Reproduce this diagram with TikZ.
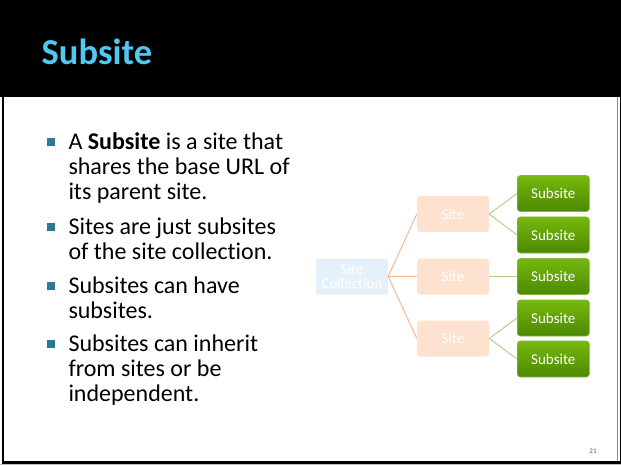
\documentclass[tikz,border=0pt]{standalone}
\usepackage{fontspec}
\setmainfont[Ligatures={NoCommon}]{Carlito}
\definecolor{titlecyan}{RGB}{79,200,242}
\definecolor{bulletteal}{RGB}{42,122,147}
\definecolor{collfill}{RGB}{228,241,250}
\definecolor{sitefill}{RGB}{253,226,208}
\definecolor{subtop}{RGB}{118,184,14}
\definecolor{subbot}{RGB}{76,136,0}
\definecolor{subedge}{RGB}{130,185,60}
\definecolor{linkorange}{RGB}{250,178,136}
\definecolor{linkgreen}{RGB}{172,206,132}
\definecolor{pagegray}{RGB}{90,90,90}
\tikzset{
  x=1pt, y=-1pt,
  boxbase/.style={rounded corners=3pt, minimum width=72pt, minimum height=36pt,
    inner sep=0pt, align=center, font=\fontsize{15}{15}\selectfont},
  collbox/.style={boxbase, fill=collfill, text=white},
  sitebox/.style={boxbase, fill=sitefill, text=white},
  subbox/.style={boxbase, top color=subtop, bottom color=subbot, draw=subedge,
    line width=0.6pt, text=white},
  orangelink/.style={draw=linkorange, line width=0.9pt},
  greenlink/.style={draw=linkgreen, line width=0.9pt},
  bodyline/.style={anchor=base west, inner sep=0pt,
    font=\fontsize{24}{25}\selectfont, text=black},
  bulletsq/.style={fill=bulletteal, minimum size=7.5pt, inner sep=0pt},
}
\begin{document}
\begin{tikzpicture}
\useasboundingbox (0,0) rectangle (621,465);
% slide background, frame and header band
\fill[white] (0,0) rectangle (621,465);
\fill[black] (0,0) rectangle (621,97);
\fill[black] (2,97) rectangle (4.3,463.5);
\fill[black] (2,461) rectangle (621,463.5);
\fill[black] (620,97) rectangle (621,463.5);
\fill[black!45] (616.8,97) rectangle (618.2,461);
\fill[black!25] (0,463.5) rectangle (621,465);

% title
\node[anchor=base west, inner sep=0pt, text=titlecyan,
  font=\fontsize{36.5}{40}\selectfont\bfseries] (title) at (41.5,65) {Subsite};

% bullet list
\node[bodyline] (l1) at (68.3,149.3) {A \textbf{Subsite} is a site that};
\node[bodyline] (l2) at (68.3,174.3) {shares the base URL of};
\node[bodyline] (l3) at (68.3,199.3) {its parent site.};
\node[bodyline] (l4) at (68.3,234.3) {Sites are just subsites};
\node[bodyline] (l5) at (68.3,259.3) {of the site collection.};
\node[bodyline] (l6) at (68.3,293.3) {Subsites can have};
\node[bodyline] (l7) at (68.3,318.3) {subsites.};
\node[bodyline] (l8) at (68.3,351.3) {Subsites can inherit};
\node[bodyline] (l9) at (68.3,376.3) {from sites or be};
\node[bodyline] (l10) at (68.3,401.3) {independent.};
\node[bulletsq] (b1) at (51.2,142) {};
\node[bulletsq] (b2) at (51.2,227) {};
\node[bulletsq] (b3) at (51.2,286) {};
\node[bulletsq] (b4) at (51.2,344) {};

% hierarchy diagram
\node[collbox] (coll) at (352,276.5) {Site\\[-1pt]Collection};
\node[sitebox] (siteA) at (453,214) {Site};
\node[sitebox] (siteB) at (453,276.5) {Site};
\node[sitebox] (siteC) at (453,338.5) {Site};
\node[subbox] (sub1) at (553.3,193.5) {Subsite};
\node[subbox] (sub2) at (553.3,235) {Subsite};
\node[subbox] (sub3) at (553.3,276.5) {Subsite};
\node[subbox] (sub4) at (553.3,318) {Subsite};
\node[subbox] (sub5) at (553.3,359) {Subsite};

\draw[orangelink] (coll.east) -- (siteA.west);
\draw[orangelink] (coll.east) -- (siteB.west);
\draw[orangelink] (coll.east) -- (siteC.west);
\draw[greenlink] (siteA.east) -- (sub1.west);
\draw[greenlink] (siteA.east) -- (sub2.west);
\draw[greenlink] (siteB.east) -- (sub3.west);
\draw[greenlink] (siteC.east) -- (sub4.west);
\draw[greenlink] (siteC.east) -- (sub5.west);

% page number
\node[anchor=base, inner sep=0pt, text=pagegray,
  font=\fontsize{7}{8}\selectfont] (pagenum) at (593,453) {21};
\end{tikzpicture}
\end{document}
